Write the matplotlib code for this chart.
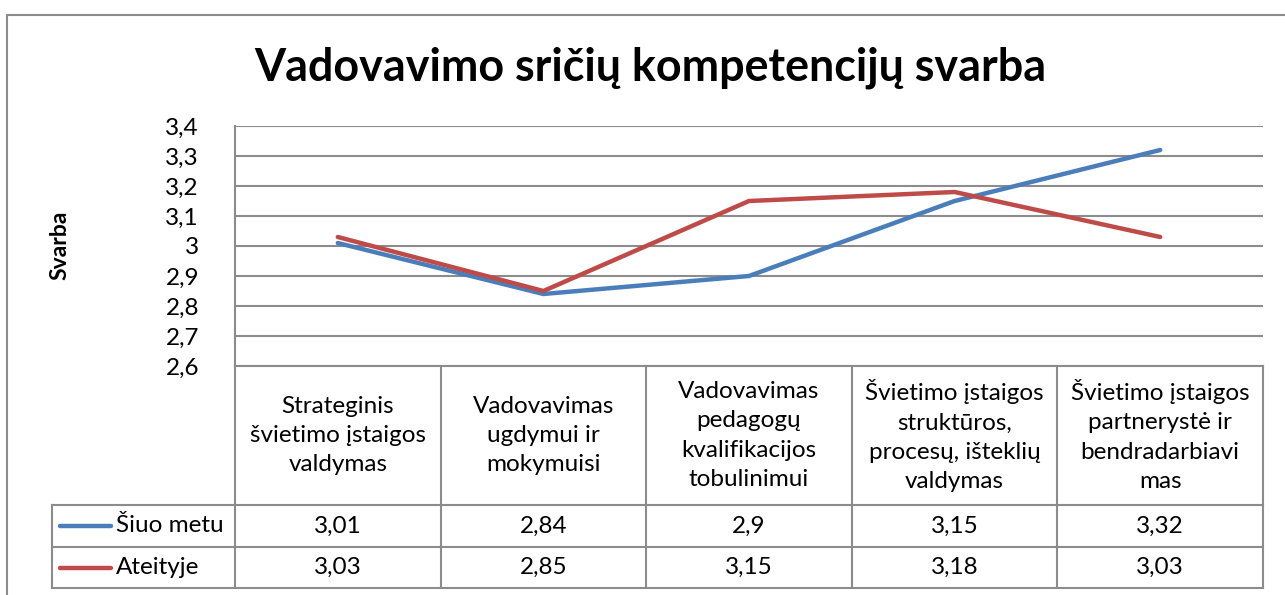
import matplotlib
matplotlib.use("Agg")
import matplotlib.pyplot as plt
from matplotlib.patches import Rectangle
from matplotlib.lines import Line2D
import matplotlib.transforms as mtransforms

plt.rcParams['font.family'] = ['Lato', 'DejaVu Sans']

title = "Vadovavimo sričių kompetencijų svarba"
ylabel = "Svarba"
categories = [
    "Strateginis\nšvietimo įstaigos\nvaldymas",
    "Vadovavimas\nugdymui ir\nmokymuisi",
    "Vadovavimas\npedagogų\nkvalifikacijos\ntobulinimui",
    "Švietimo įstaigos\nstruktūros,\nprocesų, išteklių\nvaldymas",
    "Švietimo įstaigos\npartnerystė ir\nbendradarbiavi\nmas",
]
series_names = ["Šiuo metu", "Ateityje"]
siuo_metu = [3.01, 2.84, 2.9, 3.15, 3.32]
ateityje = [3.03, 2.85, 3.15, 3.18, 3.03]
yticks = [2.6, 2.7, 2.8, 2.9, 3.0, 3.1, 3.2, 3.3, 3.4]
colors = ["#4A7EBB", "#BE4B48"]

W, H = 1285, 595
fig = plt.figure(figsize=(W / 100, H / 100), dpi=100)

def fx(px):
    return px / W

def fy(py):
    return 1 - py / H

# outer chart border
fig.patches.append(Rectangle((fx(7), fy(640)), fx(1400), fy(15) - fy(640),
                             transform=fig.transFigure, fill=False,
                             edgecolor="#8C8C8C", linewidth=1.5))

ax_l, ax_r, ax_t, ax_b = 235, 1263, 126, 366
ax = fig.add_axes([fx(ax_l), fy(ax_b), fx(ax_r - ax_l), fy(ax_t) - fy(ax_b)])

xs = list(range(len(categories)))
ax.plot(xs, siuo_metu, color=colors[0], linewidth=3.2, solid_capstyle='round', zorder=3)
ax.plot(xs, ateityje, color=colors[1], linewidth=3.2, solid_capstyle='round', zorder=3)

ax.set_xlim(-0.5, len(categories) - 0.5)
ax.set_ylim(2.6, 3.4)
ax.set_yticks(yticks)
ax.set_yticklabels([("%g" % v).replace(".", ",") for v in yticks], fontsize=17.5)
ax.tick_params(axis='y', length=0, pad=26)
ax.set_xticks([])
ax.grid(axis='y', color="#8C8C8C", linewidth=1.5)
for s in ["top", "right", "bottom"]:
    ax.spines[s].set_visible(False)
ax.spines["left"].set_color("#8C8C8C")
ax.spines["left"].set_linewidth(1.5)

fig.text(fx(60), fy(245), ylabel, rotation=90, ha='center', va='center',
         fontsize=16.5, fontweight='bold')
fig.text(fx(650), fy(68), title, ha='center', va='center',
         fontsize=32.3, fontweight='bold')

# data table drawn using the axes' x scale
trans = mtransforms.blended_transform_factory(ax.transData, fig.transFigure)
lc = "#8C8C8C"
row_tops = [366, 505, 547, 588]
x_edges = [i - 0.5 for i in range(len(categories) + 1)]
fig.lines.append(Line2D([fx(ax_l), fx(ax_r)], [fy(366), fy(366)], transform=fig.transFigure, color=lc, lw=1.5))
for yy in row_tops[1:]:
    fig.lines.append(Line2D([fx(52), fx(ax_r)], [fy(yy), fy(yy)], transform=fig.transFigure, color=lc, lw=1.5))
for xe in x_edges:
    fig.lines.append(Line2D([xe, xe], [fy(366), fy(588)], transform=trans, color=lc, lw=1.5))
fig.lines.append(Line2D([fx(52), fx(52)], [fy(505), fy(588)], transform=fig.transFigure, color=lc, lw=1.5))

for i, cat in enumerate(categories):
    fig.text(i, fy((366 + 505) / 2), cat, transform=trans, ha='center', va='center',
             fontsize=17.5, linespacing=1.48)
for r, vals in enumerate([siuo_metu, ateityje]):
    yc = fy((row_tops[r + 1] + row_tops[r + 2]) / 2)
    for i, v in enumerate(vals):
        fig.text(i, yc, ("%g" % v).replace(".", ","), transform=trans,
                 ha='center', va='center', fontsize=17.5)
    fig.lines.append(Line2D([fx(60), fx(111)], [yc, yc], transform=fig.transFigure,
                            color=colors[r], lw=3.2, solid_capstyle='round'))
    fig.text(fx(116), yc, series_names[r], ha='left', va='center', fontsize=17.5)

fig.savefig("out.png", dpi=100)
